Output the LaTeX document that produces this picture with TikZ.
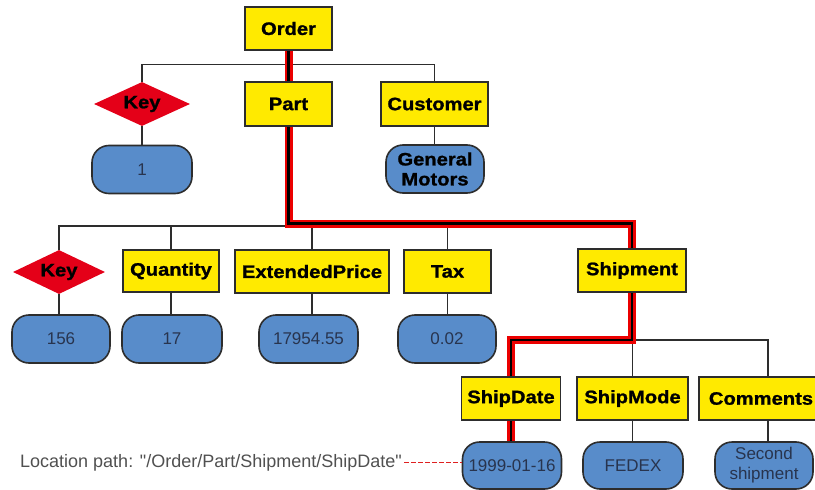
\documentclass[tikz,border=0pt]{standalone}
\usepackage{fontspec}
\setmainfont{Liberation Sans}
\newfontfamily\lblfont{Liberation Sans}[FakeStretch=1.12, BoldFeatures={FakeBold=1.2}]
\newfontfamily\valfont{Liberation Sans}
\usetikzlibrary{shapes.geometric}
\pgfdeclarelayer{bg}
\pgfsetlayers{bg,main}
\definecolor{ylw}{RGB}{255,234,0}
\definecolor{keyred}{RGB}{228,0,24}
\definecolor{valblue}{RGB}{88,140,202}
\definecolor{edgec}{RGB}{45,45,45}
\definecolor{valtext}{RGB}{40,52,78}
\definecolor{hl}{RGB}{235,0,0}
\definecolor{pathgray}{RGB}{80,80,80}
\begin{document}
\begin{tikzpicture}[x=1pt,y=-1pt,
  elem/.style={draw=edgec, line width=1.6pt, fill=ylw, inner sep=0pt, minimum height=43pt,
    font=\lblfont\bfseries\fontsize{18}{20}\selectfont},
  keyd/.style={diamond, fill=keyred, inner sep=0pt, aspect=2.1, minimum width=94pt, minimum height=44pt,
    font=\lblfont\bfseries\fontsize{18}{20}\selectfont},
  val/.style={draw=edgec, line width=1.6pt, fill=valblue, rounded corners=17pt, inner sep=0pt,
    minimum height=48pt, align=center, text=valtext, font=\valfont\fontsize{17}{20}\selectfont},
  conn/.style={draw=edgec, line width=1.8pt},
  hlred/.style={draw=hl, line width=8pt, line join=miter},
  hlblack/.style={draw=black, line width=2.2pt, line join=miter}
]
\clip (0,0) rectangle (815,490);
% level 0/1
\node[elem, minimum width=87pt] (Order) at (288.5,28.5) {Order};
\node[keyd, minimum width=96pt] (Key1) at (142,104) {Key};
\node[elem, minimum width=87pt, minimum height=44pt] (Part) at (288.5,104) {Part};
\node[elem, minimum width=107pt, minimum height=44pt] (Customer) at (434.5,104) {Customer};
\node[val, minimum width=100pt] (V1) at (142,169.5) {1};
\node[val, minimum width=98pt, text=black, font=\lblfont\bfseries\fontsize{18}{20}\selectfont] (GM) at (435,169) {General\\Motors};
% level 2
\node[keyd, minimum width=92pt] (Key2) at (59,272) {Key};
\node[elem, minimum width=96pt, minimum height=42pt] (Quantity) at (171,271) {Quantity};
\node[elem, minimum width=154pt] (ExtPrice) at (312,271.5) {ExtendedPrice};
\node[elem, minimum width=87pt] (Tax) at (447.5,271.5) {Tax};
\node[elem, minimum width=108pt] (Shipment) at (632,270.5) {Shipment};
\node[val, minimum width=98pt] (V156) at (61,339) {156};
\node[val, minimum width=100pt] (V17) at (172,339) {17};
\node[val, minimum width=99pt] (VPrice) at (308.5,339) {17954.55};
\node[val, minimum width=98pt] (VTax) at (447,339) {0.02};
% level 3
\node[elem, minimum width=99pt] (ShipDate) at (511,398.5) {ShipDate};
\node[elem, minimum width=111pt] (ShipMode) at (632.5,398.5) {ShipMode};
\node[elem, minimum width=124pt] (Comments) at (761,398.5) {Comments};
\node[val, minimum width=99pt, minimum height=47pt] (V1999) at (512,465.5) {1999-01-16};
\node[val, minimum width=100pt, minimum height=47pt] (VFedex) at (633,465.5) {FEDEX};
\node[val, minimum width=98pt, minimum height=47pt] (VComm) at (764,465.5) {Second\\shipment};
% location path
\node[anchor=base west, inner sep=0pt, text=pathgray, font=\valfont\fontsize{18}{20}\selectfont] (LP) at (20,467) {Location path: "/Order/Part/Shipment/ShipDate"};
\draw[red!75!gray, dashed, dash pattern=on 5pt off 2pt, line width=1pt] (LP.east) ++(2,0) -- (V1999.west |- LP.east);

\coordinate (b1) at (0,64.5);
\coordinate (b2) at (0,226);
\coordinate (b2r) at (0,223.5);
\coordinate (b3) at (0,340);
\coordinate (c3) at (768,340);
\begin{pgfonlayer}{bg}
  \draw[conn] (Key1.north) |- (Customer.north |- b1) -- (Customer.north);
  \draw[conn] (Key1.south) -- (V1.north);
  \draw[conn] (Customer.south) -- (Customer.south |- GM.north);
  \draw[conn] (Key2.north) |- (Shipment.north |- b2);
  \draw[conn] (Quantity.north) -- (Quantity.north |- b2);
  \draw[conn] (ExtPrice.north) -- (ExtPrice.north |- b2);
  \draw[conn] (Tax.north) -- (Tax.north |- b2);
  \draw[conn] (Key2.south) -- (Key2.south |- V156.north);
  \draw[conn] (Quantity.south) -- (Quantity.south |- V17.north);
  \draw[conn] (ExtPrice.south) -- (ExtPrice.south |- VPrice.north);
  \draw[conn] (Tax.south) -- (Tax.south |- VTax.north);
  \draw[conn] (ShipDate.north |- b3) -- (c3) -- (c3 |- Comments.north);
  \draw[conn] (ShipMode.north) -- (ShipMode.north |- b3);
  \draw[conn] (ShipMode.south) -- (ShipMode.south |- VFedex.north);
  \draw[conn] (c3 |- Comments.south) -- (c3 |- VComm.north);
  % highlighted location path
  \foreach \s in {hlred, hlblack}{
    \draw[\s] (Order.south) -- (Part.north);
    \draw[\s] (Part.south) |- (Shipment.north |- b2r) -- (Shipment.north);
    \draw[\s] (Shipment.south) |- (ShipDate.north |- b3) -- (ShipDate.north);
    \draw[\s] (ShipDate.south) -- (ShipDate.south |- V1999.north);
  }
\end{pgfonlayer}
\end{tikzpicture}
\end{document}
